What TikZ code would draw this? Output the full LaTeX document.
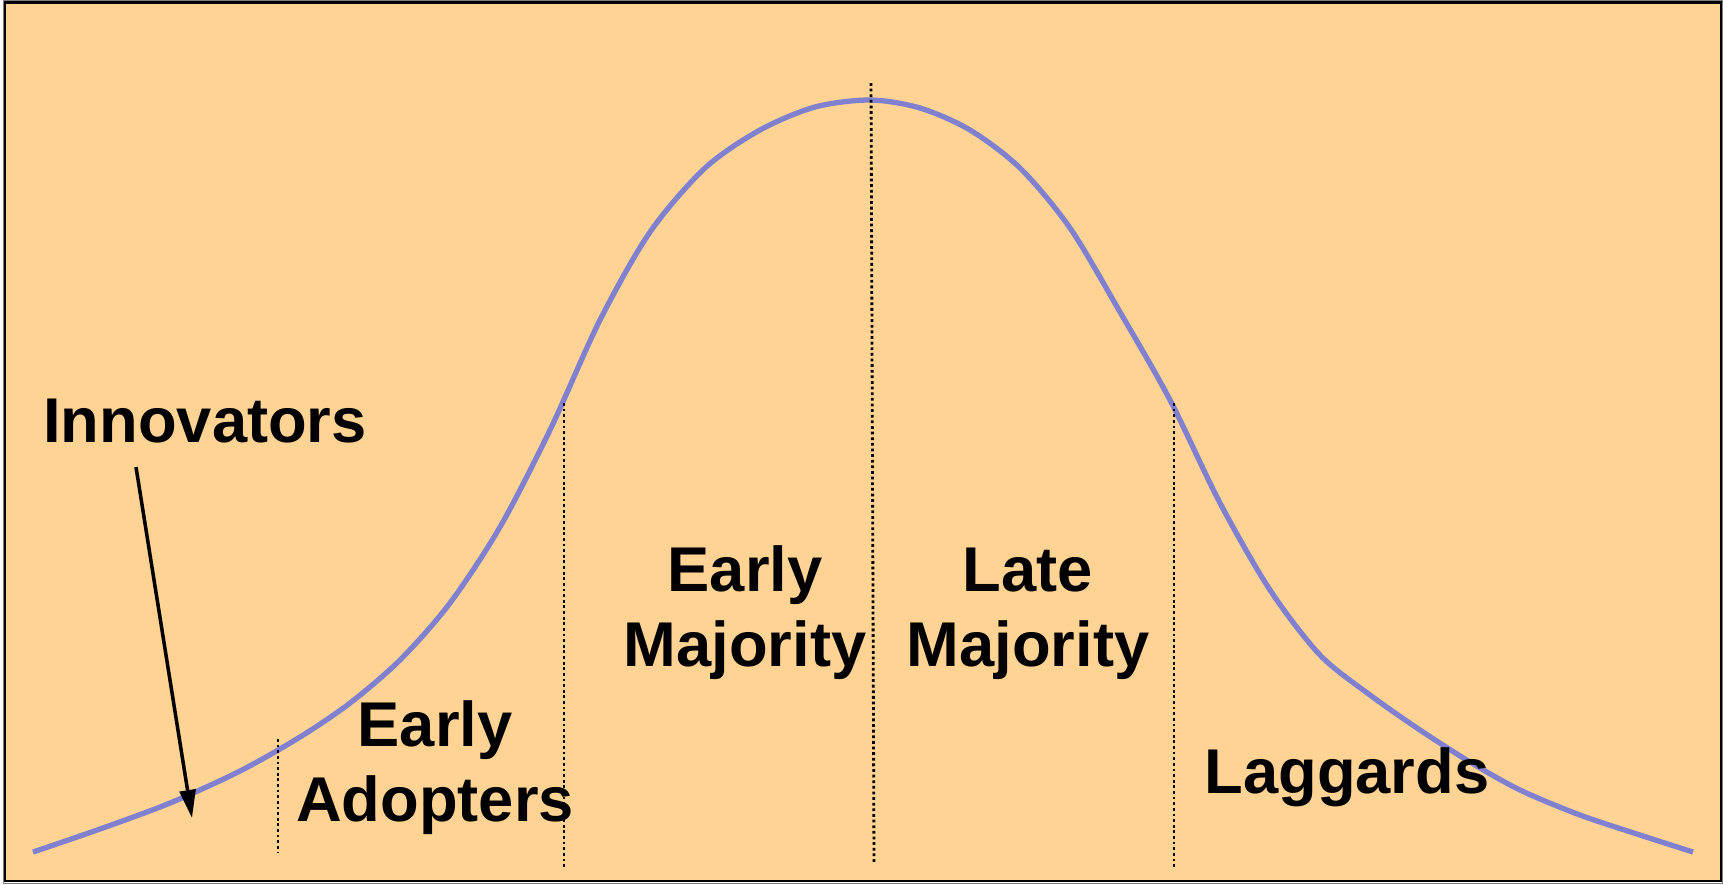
\documentclass[tikz,border=0pt]{standalone}
\usepackage{fontspec}
\setmainfont{Liberation Sans}
\usetikzlibrary{arrows.meta}

\definecolor{sheet}{RGB}{255,211,148}
\definecolor{bellblue}{RGB}{128,128,208}

\tikzset{
	stage/.style={font=\fontsize{18}{21.3}\selectfont\bfseries, align=center, inner sep=0pt, anchor=base},
	bell/.style={line width=1.5pt, color=bellblue, line join=round},
	divider/.style={line width=0.8pt, dash pattern=on 0.8pt off 0.8pt},
}

\begin{document}
\begin{tikzpicture}[x=0.1mm, y=-0.1mm]
	% frame
	\useasboundingbox (0,0) rectangle (1723,884);
	\draw[line width=0.3pt, color=gray] (3.5,1) rectangle (1722.5,883);
	\draw[line width=0.75pt, fill=sheet] (5,2.5) rectangle (1721,881);
	% bell curve
	\draw[bell] plot[smooth] coordinates {(33,852) (100,829) (170,803) (240,771) (300,737) (350,703) (400,660) (450,603) (500,527) (550,430) (600,320) (650,232) (705,168) (760,130) (815,107) (870,100) (920,108) (970,130) (1020,168) (1070,228) (1120,312) (1170,400) (1220,503) (1270,590) (1320,655) (1370,695) (1420,730) (1470,762) (1520,790) (1580,815) (1640,835) (1693,852)};
	% dividers
	\draw[divider] (278,739) -- (278,852);
	\draw[divider] (564,403) -- (564,867);
	\draw[divider] (871,83) -- (874,863);
	\draw[divider] (1174,403) -- (1174,867);
	% labels
	\node[stage] (innov) at (205,442) {Innovators};
	\node[stage] (earlyad) at (435,821) {Early\\Adopters};
	\node[stage] (earlymaj) at (745,666) {Early\\Majority};
	\node[stage] (latemaj) at (1028,666) {Late\\Majority};
	\node[stage] (lagg) at (1347,793) {Laggards};
	% pointer to the innovators' tail
	\coordinate (innotail) at (136,467);
	\coordinate (innotip) at (192,818);
	\draw[line width=1pt, -{Triangle[length=8pt, width=4.5pt]}] (innotail) -- (innotip);
\end{tikzpicture}
\end{document}
